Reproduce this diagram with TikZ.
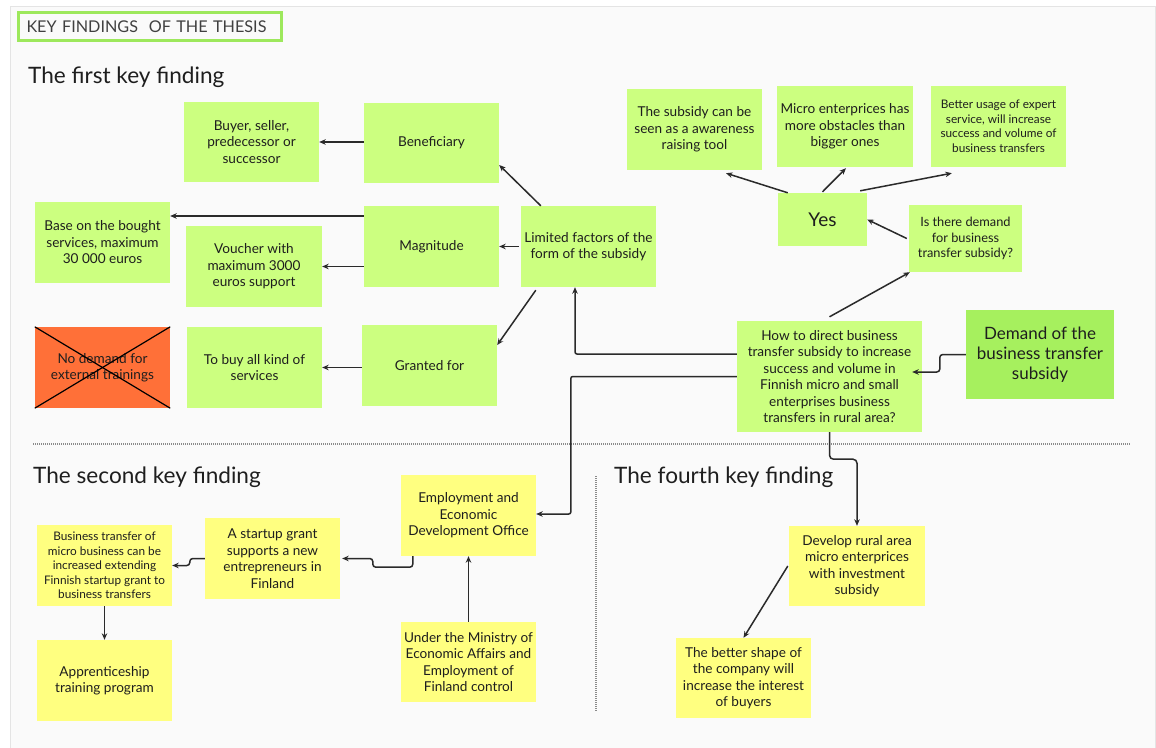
\documentclass[tikz,border=0pt]{standalone}
\usepackage{fontspec}
\setmainfont{Lato}
\usetikzlibrary{arrows.meta}

\definecolor{panel}{HTML}{FAFAFA}
\definecolor{panelline}{HTML}{E4E4E4}
\definecolor{leaf}{HTML}{CCFF80}
\definecolor{leafdark}{HTML}{A6F05E}
\definecolor{sticky}{HTML}{FFFF80}
\definecolor{alert}{HTML}{FF7038}
\definecolor{ink}{HTML}{1E1E1E}
\definecolor{wire}{HTML}{2A2A2A}
\definecolor{frame}{HTML}{9DE85C}
\definecolor{dots}{HTML}{8A8A8A}

\tikzset{
  card/.style={rectangle, inner sep=0pt, align=center, text=ink,
               font=\fontsize{13.6}{16.5}\selectfont},
  gcard/.style={card, fill=leaf},
  ycard/.style={card, fill=sticky},
  small/.style={font=\fontsize{11.8}{14.5}\selectfont},
  wh/.style 2 args={minimum width=#1pt, minimum height=#2pt},
  conn/.style={draw=wire, line width=1.5pt,
               -{Stealth[length=6.5pt,width=5.5pt]}},
  heading/.style={anchor=base west, text=ink, inner sep=0pt,
                  font=\fontsize{22.6}{26}\selectfont},
  divider/.style={draw=dots, line width=1.2pt, dash pattern=on 1pt off 1pt},
}

\begin{document}
\begin{tikzpicture}[x=1pt, y=-1pt]
\useasboundingbox (0,0) rectangle (1156,747);
\fill[white] (0,0) rectangle (1156,747);
\filldraw[fill=panel, draw=panelline, line width=1pt] (10.5,6.5) rectangle (1155,760);

% title
\node[draw=frame, line width=3pt, inner sep=0pt, minimum height=28pt,
      text width=246pt, inner xsep=8.5pt, align=left, anchor=west,
      text=ink!85, font=\fontsize{16.2}{18}\selectfont]
  (title) at (16.5,26.5) {KEY FINDINGS \ OF THE THESIS};

% section headings and dividers
\node[heading] (h1) at (28,83) {The first key finding};
\node[heading] (h2) at (33,483) {The second key finding};
\node[heading] (h4) at (614,483) {The fourth key finding};
\draw[divider] (33,444) -- (1131,444);
\draw[divider] (596,476) -- (596,712);

% first key finding
\node[gcard, wh={135}{80}] (buyer) at (251.5,142) {Buyer, seller,\\predecessor or\\successor};
\node[gcard, wh={135}{80}] (benef) at (431.5,143) {Beneficiary};
\node[gcard, wh={135}{81}] (base) at (102.5,242.5) {Base on the bought\\services, maximum\\30 000 euros};
\node[gcard, wh={135}{81}] (magn) at (431.5,246.5) {Magnitude};
\node[gcard, wh={136}{81}] (voucher) at (254,266.5) {Voucher with\\maximum 3000\\euros support};
\node[gcard, wh={135}{81}] (limited) at (588.5,246.5) {Limited factors of the\\form of the subsidy};
\node[card, fill=alert, wh={135}{81}] (nodem) at (102.5,367.5) {No demand for\\external trainings};
\node[gcard, wh={135}{81}] (tobuy) at (254.5,367.5) {To buy all kind of\\services};
\node[gcard, wh={135}{81}] (granted) at (429.5,365.5) {Granted for};

\node[gcard, wh={135}{81}] (aware) at (694.5,129.5) {The subsidy can be\\seen as a awareness\\raising tool};
\node[gcard, wh={136}{81}] (micro) at (845,126.5) {Micro enterprices has\\more obstacles than\\bigger ones};
\node[gcard, small, wh={135}{81}] (better) at (998.5,126.5) {Better usage of expert\\service, will increase\\success and volume of\\business transfers};
\node[gcard, wh={89}{53}, font=\fontsize{19}{22}\selectfont] (yes) at (822.5,219.5) {Yes};
\node[gcard, wh={113}{67}, font=\fontsize{12.8}{15.3}\selectfont] (isdem) at (965.5,238.5) {Is there demand\\for business\\transfer subsidy?};
\node[gcard, wh={185}{111}] (how) at (829.5,376.5) {How to direct business\\transfer subsidy to increase\\success and volume in\\Finnish micro and small\\enterprises business\\transfers in rural area?};
\node[card, fill=leafdark, wh={148}{89}, font=\fontsize{17}{20}\selectfont] (demand) at (1040,354.5) {Demand of the\\business transfer\\subsidy};

% second key finding
\node[ycard, wh={135}{81}] (employ) at (468.5,515.5) {Employment and\\Economic\\Development Office};
\node[ycard, wh={135}{81}] (startup) at (272.5,558.5) {A startup grant\\supports a new\\entrepreneurs in\\Finland};
\node[ycard, small, wh={135}{81}] (btrans) at (104.5,565.5) {Business transfer of\\micro business can be\\increased extending\\Finnish startup grant to\\business transfers};
\node[ycard, wh={135}{81}] (appr) at (104.5,680.5) {Apprenticeship\\training program};
\node[ycard, wh={135}{80}] (ministry) at (468.5,662) {Under the Ministry of\\Economic Affairs and\\Employment of\\Finland control};

% fourth key finding
\node[ycard, wh={136}{80}] (develop) at (857,566) {Develop rural area\\micro enterprices\\with investment\\subsidy};
\node[ycard, wh={135}{80}] (shape) at (743.5,678) {The better shape of\\the company will\\increase the interest\\of buyers};

% crossed-out card
\draw[black, line width=1.2pt] (nodem.north west) -- (nodem.south east);
\draw[black, line width=1.2pt] (nodem.south west) -- (nodem.north east);

% connectors, first key finding
\draw[conn] (buyer.east -| benef.west) -- (buyer.east);
\draw[conn] ([yshift=30.5pt]magn.west) coordinate (m1) -- (m1 -| base.east);
\draw[conn] (voucher.east -| magn.west) -- (voucher.east);
\draw[conn] (tobuy.east -| granted.west) -- (tobuy.east);
\draw[conn] ([xshift=20pt]limited.north west) -- ([yshift=-22pt]benef.east);
\draw[conn] ([xshift=-2pt]limited.west) -- (magn.east);
\draw[conn] ([xshift=15pt,yshift=-3pt]limited.south west) -- ([yshift=20.5pt]granted.east);
\draw[conn, rounded corners=2pt] ([yshift=22.5pt]how.west) -| ([xshift=-13.5pt]limited.south);
\draw[conn, rounded corners=2pt] (how.west) -- ++(-166,0) |- ([yshift=1.5pt]employ.east);
\draw[conn] ([yshift=4pt]how.north) -- ([xshift=1pt]isdem.south west);
\draw[conn] ([xshift=-2pt]isdem.west) -- (yes.east);
\draw[conn] ([xshift=10pt]yes.north west) -- ([xshift=31.5pt,yshift=-3pt]aware.south);
\draw[conn] ([yshift=1pt]yes.north) -- ([xshift=1pt,yshift=-1pt]micro.south);
\draw[conn] ([xshift=-7pt,yshift=2pt]yes.north east) -- ([xshift=21pt,yshift=-6pt]better.south west);
\draw[conn, rounded corners=3pt] (demand.west) -- ++(-26,0) |- ([xshift=-10pt,yshift=4.5pt]how.east);

% connectors, second key finding
\draw[conn, rounded corners=3pt] ([xshift=12pt]employ.south west) -- ++(0,11) -- ++(-40,0) |- ([xshift=2pt]startup.east);
\draw[conn, rounded corners=3pt] (startup.west) -- ++(-15,0) |- (btrans.east);
\draw[conn] (btrans.south) -- (appr.north);
\draw[conn] (ministry.north) -- (employ.south);

% connectors, fourth key finding
\draw[conn, rounded corners=4pt] (how.south) -- ++(0,27) -| (develop.north);
\draw[conn] ([xshift=-1pt]develop.west) -- (shape.north);
\end{tikzpicture}
\end{document}
